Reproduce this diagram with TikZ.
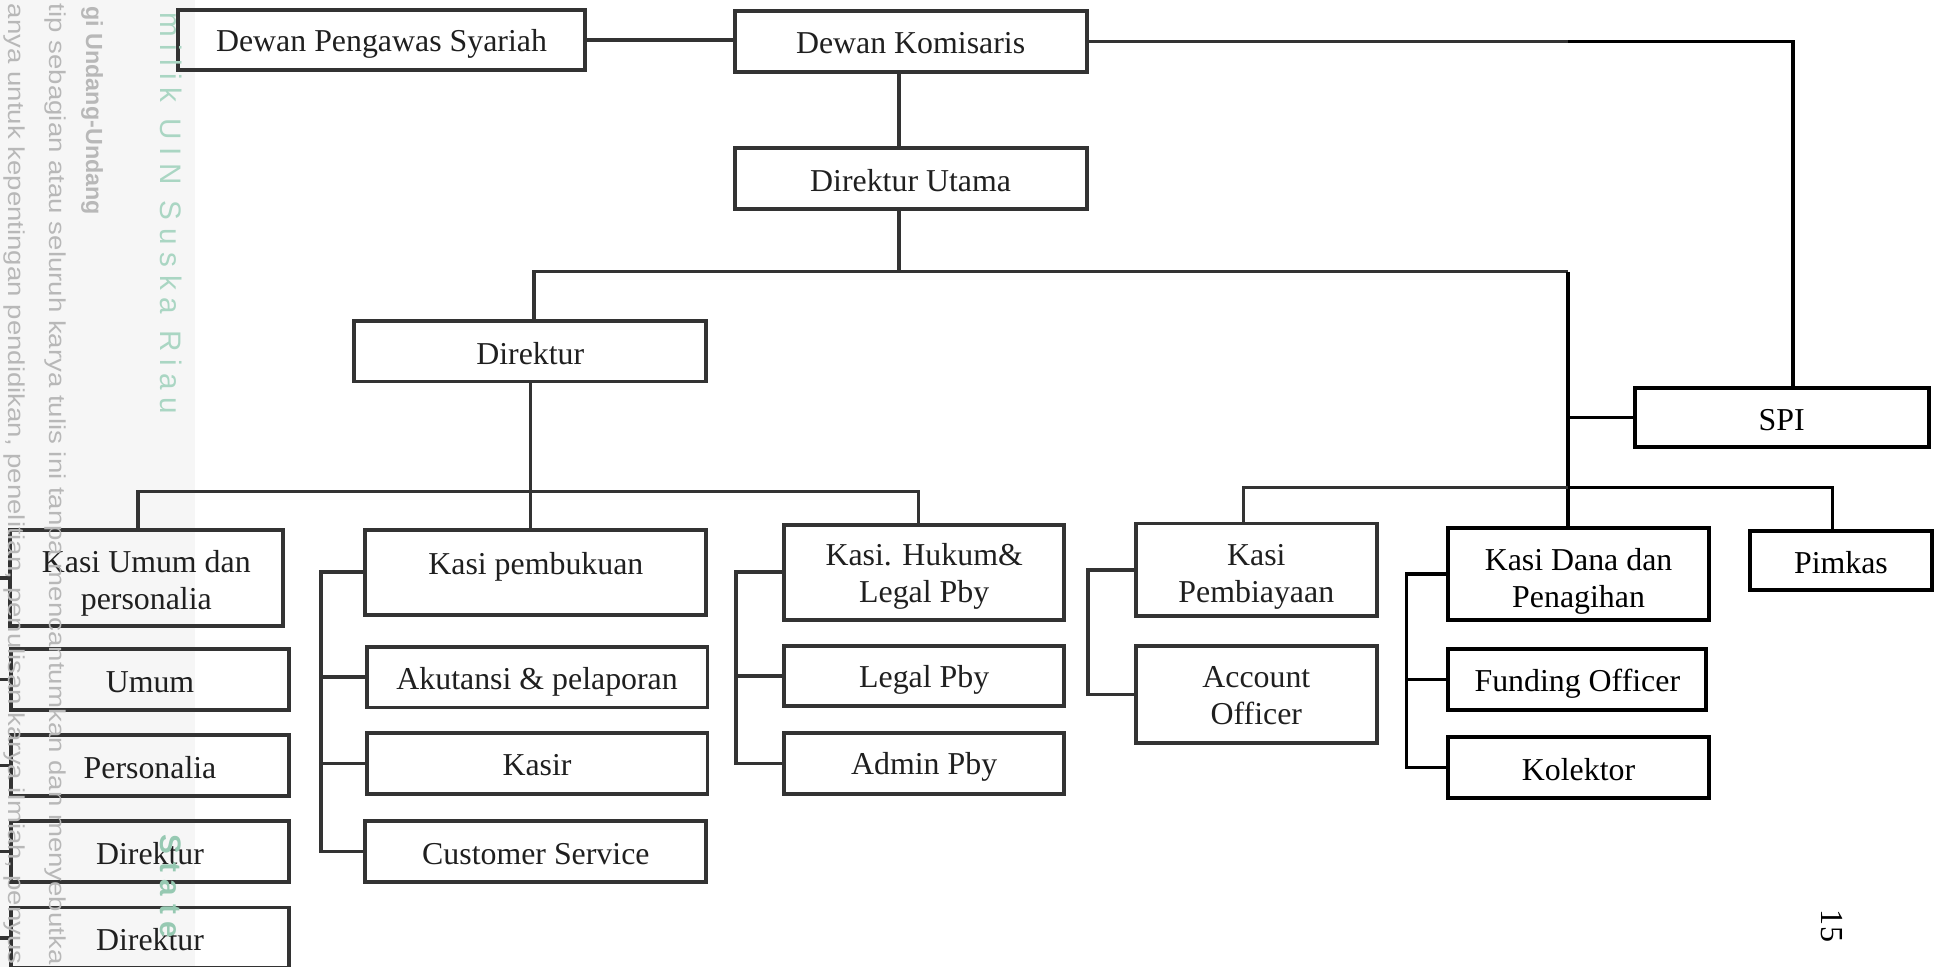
\documentclass[tikz,border=0pt]{standalone}
\usepackage{fontspec}
\setmainfont{Liberation Serif}
\newfontfamily\wmsans{Liberation Sans}
\newfontfamily\wmspaced[LetterSpace=26]{Liberation Sans}
\usetikzlibrary{calc}
\definecolor{boxc}{HTML}{333333}
\definecolor{wmgrey}{HTML}{B8B8B8}
\definecolor{wmteal}{HTML}{AAD6C3}
\definecolor{wmteal2}{HTML}{96C9B2}
\definecolor{bandc}{HTML}{F6F6F6}
% lower a line of text without changing its box
\newcommand\dn[2]{\raisebox{-#1}[\height][\depth]{#2}}
\begin{document}
\begin{tikzpicture}[x=1pt,y=-1pt,
  org/.style={draw=boxc, line width=3.2pt, rectangle, inner sep=0pt, outer sep=0pt,
    align=center, text=black!88, anchor=north west,
    font=\fontsize{25.8}{30}\selectfont},
  orgk/.style={org, draw=black, text=black},
  link/.style={draw=boxc, line width=2.9pt},
  linkk/.style={draw=black, line width=2.9pt},
  wm/.style={rotate=-90, inner sep=0pt, text=wmgrey}
]
\useasboundingbox (0,0) rectangle (1568,783);
% light band of the scanned page margin
\fill[bandc] (0,0) rectangle (158,783);

% ---------- boxes ----------
\node[org, minimum width=330pt, minimum height=49pt] (dps) at (144,8) {\dn{3pt}{Dewan Pengawas Syariah}};
\node[org, minimum width=285pt, minimum height=49pt] (dk) at (595,9) {\dn{1.5pt}{Dewan Komisaris}};
\node[org, minimum width=285pt, minimum height=49pt] (du) at (595,120) {\dn{1.5pt}{Direktur Utama}};
\node[org, minimum width=285pt, minimum height=49pt] (dir) at (287,260) {\dn{1.5pt}{Direktur}};
\node[orgk, minimum width=238pt, minimum height=48pt] (spi) at (1324,314) {\dn{2pt}{SPI}};

\node[org, minimum width=221pt, minimum height=78pt] (kumum) at (8,429) {\dn{4.5pt}{Kasi Umum dan}\\\dn{4.5pt}{personalia}};
\node[org, minimum width=225pt, minimum height=49pt] (umum) at (9,526) {\dn{2pt}{Umum}};
\node[org, minimum width=225pt, minimum height=50pt] (pers) at (9,595) {\dn{1.5pt}{Personalia}};
\node[org, minimum width=225pt, minimum height=49pt] (dira) at (9,665) {\dn{1.5pt}{Direktur}};
\node[org, minimum width=225pt, minimum height=49pt] (dirb) at (9,735) {\dn{1.5pt}{Direktur}};

\node[org, minimum width=276pt, minimum height=69pt] (kpbk) at (296,429) {\raisebox{4.5pt}[\height][\depth]{Kasi pembukuan}};
\node[org, minimum width=276pt, minimum height=49pt] (akt) at (297,524) {\dn{3.5pt}{Akutansi \& pelaporan}};
\node[org, minimum width=276pt, minimum height=49pt] (kasir) at (297,594) {\dn{1.5pt}{Kasir}};
\node[org, minimum width=276pt, minimum height=49pt] (cs) at (296,665) {\dn{2pt}{Customer Service}};

\node[org, minimum width=227pt, minimum height=77pt] (khukum) at (635,425) {\dn{3.5pt}{Kasi. Hukum\&}\\\dn{3.5pt}{Legal Pby}};
\node[org, minimum width=227pt, minimum height=49pt] (legal) at (635,523) {\dn{3pt}{Legal Pby}};
\node[org, minimum width=227pt, minimum height=49pt] (admin) at (635,594) {\dn{3pt}{Admin Pby}};

\node[org, minimum width=195pt, minimum height=75pt] (kpemb) at (920,424) {\dn{6pt}{Kasi}\\\dn{6pt}{Pembiayaan}};
\node[org, minimum width=195pt, minimum height=79pt] (ao) at (920,523) {\dn{1pt}{Account}\\\dn{1pt}{Officer}};

\node[orgk, minimum width=211pt, minimum height=74pt] (kdana) at (1173,428) {\dn{6pt}{Kasi Dana dan}\\\dn{6pt}{Penagihan}};
\node[orgk, minimum width=209pt, minimum height=49pt] (fo) at (1173,526) {\dn{3.5pt}{Funding Officer}};
\node[orgk, minimum width=211pt, minimum height=49pt] (kol) at (1173,597) {\dn{2pt}{Kolektor}};
\node[orgk, minimum width=148pt, minimum height=48pt] (pimkas) at (1417,430) {\dn{1.5pt}{Pimkas}};

% ---------- coordinates ----------
\coordinate (t1) at (728,220);
\coordinate (vr) at (1270,220);
\coordinate (b2r) at (1484,395);
\coordinate (b3l) at (112,398);
\coordinate (b3r) at (744,398);
\coordinate (g0) at (-6,0);
\coordinate (g1) at (260,0);
\coordinate (g2) at (596,0);
\coordinate (g3) at (881,0);
\coordinate (g4) at (1139,0);

% ---------- connectors ----------
\draw[link] (dps.east) -- (dps.east -| dk.west);
\draw[link] (dk.east) -- (dk.east -| vr);
\draw[linkk] (dk.east -| vr) -| ([xshift=9pt]spi.north);
\draw[link] ([xshift=-9.5pt]dk.south) -- ([xshift=-9.5pt]du.north);
\draw[link] ([xshift=-9.5pt]du.south) -- (t1);
\draw[link] (t1) -| ([xshift=3pt]dir.north);
\draw[link] (t1) -- (vr);
\draw[linkk] (vr) -- (vr |- kdana.north);
\draw[linkk] (spi.west) -- (spi.west -| vr);
\draw[link] ([xshift=-10.5pt]kpemb.north) |- (b2r -| vr);
\draw[linkk] (b2r -| vr) -- (b2r) -- (b2r |- pimkas.north);

\draw[link] (dir.south) -- (dir.south |- kpbk.north);
\draw[link] (b3l |- kumum.north) -- (b3l) -- (b3r) -- (b3r |- khukum.north);

\draw[link] (kumum.west) -| (g0 |- dirb.west) -- (dirb.west);
\draw[link] (umum.west) -- (umum.west -| g0);
\draw[link] (pers.west) -- (pers.west -| g0);
\draw[link] (dira.west) -- (dira.west -| g0);

\draw[link] (kpbk.west) -| (g1 |- cs.west) -- (cs.west);
\draw[link] (akt.west) -- (akt.west -| g1);
\draw[link] (kasir.west) -- (kasir.west -| g1);

\draw[link] (khukum.west) -| (g2 |- admin.west) -- (admin.west);
\draw[link] (legal.west) -- (legal.west -| g2);

\draw[link] (kpemb.west) -| (g3 |- ao.west) -- (ao.west);

\draw[linkk] (kdana.west) -| (g4 |- kol.west) -- (kol.west);
\draw[linkk] (fo.west) -- (fo.west -| g4);

% ---------- page number ----------
\node[rotate=-90, inner sep=0pt, font=\fontsize{26}{30}\selectfont] (pg) at (1484,750) {15};

% ---------- watermark texts ----------
\node[wm, anchor=west] (wa) at (12,3) {\resizebox{778pt}{13.5pt}{\wmsans anya untuk kepentingan pendidikan, penelitian, penulisan karya ilmiah, penyus}};
\node[wm, anchor=west] (wb) at (45,3) {\resizebox{778pt}{13.5pt}{\wmsans tip sebagian atau seluruh karya tulis ini tanpa mencantumkan dan menyebutka}};
\node[wm, anchor=west] (wc) at (74.5,5) {\resizebox{169pt}{!}{\wmsans\bfseries gi Undang-Undang}};
\node[wm, anchor=base west, text=wmteal, font=\wmspaced\fontsize{24}{26}\selectfont] (wd) at (130,10) {milik UIN Suska Riau};
\node[wm, anchor=base west, text=wmteal2, font=\wmspaced\bfseries\fontsize{24}{26}\selectfont] (we) at (130,676) {State};
\end{tikzpicture}
\end{document}
